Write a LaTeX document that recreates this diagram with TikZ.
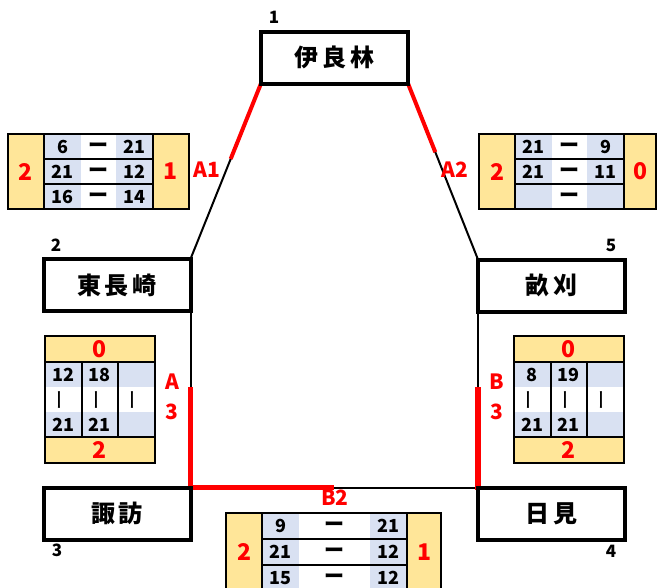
\documentclass[tikz,border=0pt]{standalone}
\usepackage{fontspec}
\setmainfont{Noto Sans CJK JP}
\usetikzlibrary{calc,backgrounds}
\definecolor{ylwc}{HTML}{FFE699}
\definecolor{bluc}{HTML}{D9E1F2}
\tikzset{
  place/.style={draw, line width=4pt, fill=white, minimum width=147pt, minimum height=52pt,
    inner sep=0pt, outer sep=0pt, font=\fontsize{24}{24}\selectfont\bfseries},
  idx/.style={inner sep=0pt, font=\fontsize{17}{17}\selectfont\bfseries},
  redlab/.style={inner sep=0pt, text=red, font=\fontsize{21}{21}\selectfont\bfseries},
  score/.style={inner sep=0pt, text=red, font=\fontsize{23}{23}\selectfont\bfseries},
  num/.style={inner sep=0pt, font=\fontsize{18}{18}\selectfont\bfseries},
  hdash/.style={inner sep=0pt, font=\fontsize{20}{20}\selectfont\bfseries},
  vdash/.style={inner sep=0pt, rotate=90, font=\fontsize{21}{21}\selectfont},
  tbl/.style={line width=2pt},
  link/.style={line width=2pt},
  win/.style={draw=red, line width=4pt},
  winv/.style={draw=red, line width=5.5pt},
}
% #1 x0, #2 y0, #3 white width, #4 right yellow width, #5 row height,
% #6 left score, #7 right score, #8 rows, #9 name prefix
\newcommand\hscore[9]{%
  \begin{scope}[shift={(#1,#2)}]
    \pgfmathsetmacro\xa{36}\pgfmathsetmacro\xb{73}%
    \pgfmathsetmacro\xc{73+#3}\pgfmathsetmacro\xd{110+#3}%
    \pgfmathsetmacro\xe{110+#3+#4}\pgfmathsetmacro\hh{3*#5}%
    \fill[ylwc] (0,0) rectangle (\xa,\hh);
    \fill[ylwc] (\xd,0) rectangle (\xe,\hh);
    \fill[bluc] (\xa,0) rectangle (\xb,\hh);
    \fill[bluc] (\xc,0) rectangle (\xd,\hh);
    \draw[tbl] (0,0) rectangle (\xe,\hh);
    \draw[tbl] (\xa,0) -- (\xa,\hh) (\xd,0) -- (\xd,\hh);
    \draw[tbl] (\xa,#5) -- (\xd,#5) (\xa,2*#5) -- (\xd,2*#5);
    \node[score] (#9-L) at ({\xa/2},{\hh/2}) {#6};
    \node[score] (#9-R) at ({(\xd+\xe)/2},{\hh/2}) {#7};
    \foreach \pa/\pb [count=\i] in {#8} {
      \node[num] (#9-\i-a) at ({(\xa+\xb)/2},{(\i-0.5)*#5}) {\pa};
      \node[hdash] (#9-\i-d) at ({(\xb+\xc)/2},{(\i-0.5)*#5+1}) {ー};
      \node[num] (#9-\i-b) at ({(\xc+\xd)/2},{(\i-0.5)*#5}) {\pb};
    }
  \end{scope}}
% #1 x0, #2 y0, #3 top score, #4 bottom score, #5 columns, #6 name prefix
\newcommand\vscore[6]{%
  \begin{scope}[shift={(#1,#2)}]
    \fill[ylwc] (0,0) rectangle (109.5,26);
    \fill[ylwc] (0,101) rectangle (109.5,127);
    \fill[bluc] (0,26) rectangle (109.5,51);
    \fill[bluc] (0,76) rectangle (109.5,101);
    \draw[tbl] (0,0) rectangle (109.5,127);
    \draw[tbl] (0,26) -- (109.5,26) (0,101) -- (109.5,101);
    \draw[tbl] (36.5,26) -- (36.5,101) (73,26) -- (73,101);
    \node[score] (#6-T) at (54.75,13) {#3};
    \node[score] (#6-B) at (54.75,114) {#4};
    \foreach \pa/\pb [count=\i] in {#5} {
      \node[num] (#6-\i-a) at ({(\i-0.5)*36.5},38.5) {\pa};
      \node[vdash] (#6-\i-d) at ({(\i-0.5)*36.5},63.5) {ー};
      \node[num] (#6-\i-b) at ({(\i-0.5)*36.5},88.5) {\pb};
    }
  \end{scope}}
\begin{document}
\begin{tikzpicture}[x=1pt,y=-1pt]
\useasboundingbox (0,0) rectangle (658,587);

% places
\node[place] (ira) at (334.5,57.5) {伊\hspace{4pt}良\hspace{4pt}林};
\node[place] (hig) at (117,285) {東\hspace{4pt}長\hspace{4pt}崎};
\node[place] (une) at (551.5,285.5) {畝\hspace{4pt}刈};
\node[place] (suw) at (117,513.5) {諏\hspace{4pt}訪};
\node[place] (him) at (551.5,513.5) {日\hspace{4pt}見};

% seed numbers
\node[idx] (n1) at (274,17) {1};
\node[idx] (n2) at (56,245) {2};
\node[idx] (n5) at (611,245) {5};
\node[idx] (n3) at (57,550) {3};
\node[idx] (n4) at (611,551) {4};

% connectors
\begin{pgfonlayer}{background}
  \fill[white] (0,0) rectangle (658,587);
  \coordinate (a1e) at ($(ira.south west)!0.43!(hig.north east)$);
  \coordinate (a2e) at ($(ira.south east)!0.39!(une.north west)$);
  \coordinate (a3e) at ($(hig.south east)!0.43!(suw.north east)$);
  \coordinate (b3e) at ($(une.south west)!0.43!(him.north west)$);
  \coordinate (b2e) at ($(suw.north east)!0.5!(him.north west)$);
  \draw[link] (ira.south west) -- (hig.north east);
  \draw[link] (ira.south east) -- (une.north west);
  \draw[link] (hig.south east) -- (suw.north east) -- (him.north west) -- (une.south west);
  \draw[win] (ira.south west) -- (a1e);
  \draw[win] (ira.south east) -- (a2e);
  \draw[winv] (a3e) -- (suw.north east) -- (b2e);
  \draw[winv] (b3e) -- ([yshift=-2pt]him.north west);
\end{pgfonlayer}

% match labels
\node[redlab] (lA1) at (207,170) {A1};
\node[redlab] (lA2) at (455,170) {A2};
\node[redlab] (lA3a) at (172,382) {A};
\node[redlab] (lA3b) at (172,412) {3};
\node[redlab] (lB3a) at (497,382) {B};
\node[redlab] (lB3b) at (497,412) {3};
\node[redlab] (lB2) at (335,498) {B2};

% score tables
\hscore{8}{134}{35}{36}{25}{2}{1}{6/21,21/12,16/14}{tA1}
\hscore{479}{134}{35}{32}{25}{2}{0}{21/9,21/11,{}/{}}{tA2}
\hscore{226}{513}{71}{34}{26}{2}{1}{9/21,21/12,15/12}{tB2}
\vscore{45}{336}{0}{2}{12/21,18/21,{}/{}}{tA3}
\vscore{514}{336}{0}{2}{8/21,19/21,{}/{}}{tB3}
\end{tikzpicture}
\end{document}
